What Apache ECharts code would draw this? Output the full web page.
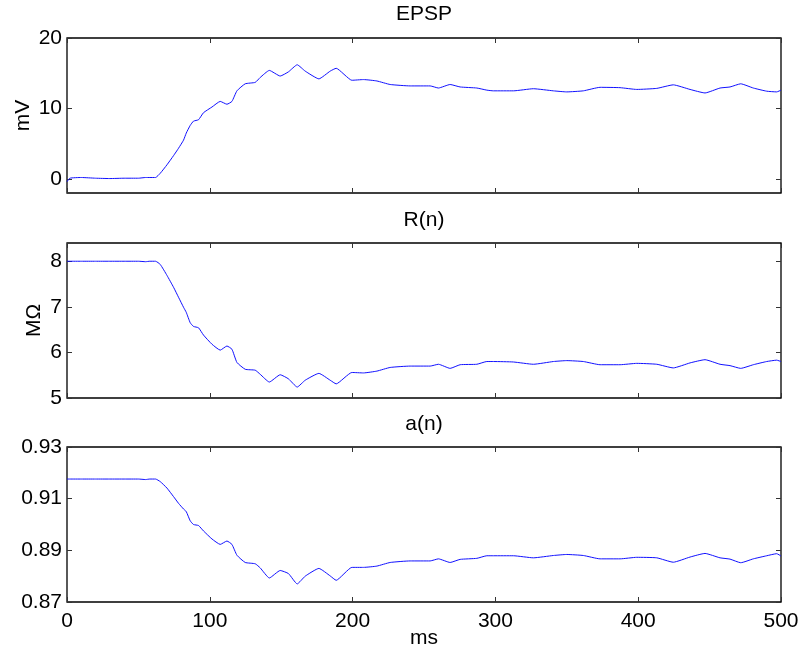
<!DOCTYPE html>
<html>
<head>
<meta charset="utf-8">
<script src="https://cdn.jsdelivr.net/npm/echarts@6/dist/echarts.min.js"></script>
<style>
html,body{margin:0;padding:0;background:#fff;}
#c{width:802px;height:658px;}
</style>
</head>
<body>
<div id="c"></div>
<script>
// time axis (ms)
var timeMs = [0, 2, 10, 20, 30, 40, 50, 55, 58, 62, 65.3, 70, 74.6, 78.1, 81.6, 83.5, 86.3, 88.6, 92.1, 95.6,
  101.5, 107.3, 112, 115.5, 119, 124.8, 131.8, 135.3, 141.7, 149.3, 155.1, 161.2, 166.8, 176.4, 184.3, 188.5,
  199.5, 207.6, 217, 226.3, 240.3, 254.3, 260.1, 268.3, 275.3, 287, 294, 298.6, 312.6, 326.6, 340.6, 350,
  361.6, 373.3, 387.3, 399, 413, 424.6, 436.3, 446.8, 457.3, 464.3, 471.8, 480.6, 490, 497, 500];

// EPSP (mV)
var epsp = [-0.4, 0.1, 0.2, 0.1, 0.05, 0.1, 0.1, 0.2, 0.2, 0.2, 0.8, 2.0, 3.3, 4.35, 5.5, 6.5, 7.6, 8.2, 8.4, 9.4,
  10.2, 11.0, 10.6, 11.0, 12.5, 13.5, 13.7, 14.4, 15.4, 14.6, 15.2, 16.2, 15.3, 14.2, 15.3, 15.7,
  14.0, 14.1, 13.9, 13.4, 13.2, 13.2, 12.9, 13.4, 13.05, 12.9, 12.6, 12.5, 12.5, 12.8, 12.5, 12.35,
  12.5, 13.0, 12.95, 12.7, 12.85, 13.35, 12.7, 12.2, 12.9, 13.05, 13.5, 12.9, 12.45, 12.35, 12.6];

// R(n) (MOhm)
var resist = [8.0, 8.0, 8.0, 8.0, 8.0, 8.0, 8.0, 7.99, 8.0, 8.0, 7.93, 7.69, 7.43, 7.21, 6.99, 6.88, 6.65, 6.57, 6.54, 6.38,
  6.18, 6.05, 6.14, 6.07, 5.78, 5.63, 5.61, 5.52, 5.35, 5.51, 5.42, 5.24, 5.39, 5.54, 5.39, 5.31,
  5.56, 5.55, 5.59, 5.67, 5.70, 5.70, 5.74, 5.65, 5.73, 5.74, 5.80, 5.80, 5.79, 5.74, 5.80, 5.82,
  5.80, 5.73, 5.73, 5.76, 5.74, 5.66, 5.77, 5.84, 5.74, 5.71, 5.65, 5.73, 5.80, 5.83, 5.80];

// a(n)
var aCoef = [0.9176, 0.9176, 0.9176, 0.9176, 0.9176, 0.9176, 0.9176, 0.9174, 0.9176, 0.9176, 0.9166, 0.9141, 0.9108, 0.9082, 0.9060, 0.9050, 0.9014, 0.9000, 0.8996, 0.8975,
  0.8944, 0.8923, 0.8936, 0.8923, 0.8881, 0.8853, 0.8848, 0.8832, 0.8793, 0.8822, 0.8810, 0.8770, 0.8800, 0.8830, 0.8801, 0.8784,
  0.8834, 0.8834, 0.8839, 0.8853, 0.8859, 0.8859, 0.8867, 0.8853, 0.8865, 0.8869, 0.8879, 0.8879, 0.8879, 0.8871, 0.8880, 0.8884,
  0.8880, 0.8867, 0.8867, 0.8873, 0.8871, 0.8854, 0.8874, 0.8888, 0.8871, 0.8866, 0.8852, 0.8867, 0.8879, 0.8887, 0.8878];

var xTicks = [0, 100, 200, 300, 400, 500];
var yTicks1 = [0, 10, 20];
var yTicks2 = [5, 6, 7, 8];
var yTicks3 = [0.87, 0.89, 0.91, 0.93];
var titles = ['EPSP', 'R(n)', 'a(n)'];
var yNames = ['mV', 'M\u03A9', ''];

var FONT = '"Liberation Sans", Arial, Helvetica, sans-serif';
var FS = 21;
var chart = echarts.init(document.getElementById('c'), null, {renderer: 'canvas'});

var grids = [
  {left: 67, right: 21, top: 38, height: 155},
  {left: 67, right: 21, top: 243, height: 155},
  {left: 67, right: 21, top: 447, height: 155}
];
grids.forEach(function (g) { g.show = true; g.borderColor = '#000'; g.borderWidth = 1.3; g.backgroundColor = '#fff'; });

var yRanges = [[-2, 20], [5, 8.4], [0.87, 0.93]];
var yTickSets = [yTicks1, yTicks2, yTicks3];
var nameGaps = [33, 22, 0];

var xAxes = [], yAxes = [], series = [];
function tick(vals) {
  var t = {show: true, inside: true, length: 5, lineStyle: {color: '#333', width: 1}};
  if (vals) t.customValues = vals;
  return t;
}
for (var i = 0; i < 3; i++) {
  xAxes.push({
    type: 'value', gridIndex: i, min: 0, max: 500, interval: 100, position: 'bottom',
    name: i === 2 ? 'ms' : '', nameLocation: 'middle', nameGap: 26, nameMoveOverlap: false,
    nameTextStyle: {fontFamily: FONT, fontSize: FS, color: '#000'},
    axisLine: {show: false, onZero: false},
    axisTick: tick(xTicks),
    splitLine: {show: false},
    axisLabel: {show: i === 2, fontFamily: FONT, fontSize: FS, color: '#000', margin: 9, customValues: xTicks}
  });
  xAxes.push({
    type: 'value', gridIndex: i, min: 0, max: 500, interval: 100, position: 'top',
    axisLine: {show: false, onZero: false}, axisTick: tick(xTicks), splitLine: {show: false}, axisLabel: {show: false}
  });
  var ts = yTickSets[i];
  yAxes.push({
    type: 'value', gridIndex: i, min: yRanges[i][0], max: yRanges[i][1], position: 'left',
    name: yNames[i], nameLocation: 'middle', nameGap: nameGaps[i], nameRotate: 90, nameMoveOverlap: false,
    nameTextStyle: {fontFamily: FONT, fontSize: FS, color: '#000'},
    axisLine: {show: false, onZero: false},
    axisTick: tick(ts),
    splitLine: {show: false},
    axisLabel: {show: true, fontFamily: FONT, fontSize: FS, color: '#000', margin: 5, customValues: ts,
      formatter: (function (k) { return function (v) { return k === 2 ? v.toFixed(2) : String(v); }; })(i)}
  });
  yAxes.push({
    type: 'value', gridIndex: i, min: yRanges[i][0], max: yRanges[i][1], position: 'right',
    axisLine: {show: false, onZero: false},
    axisTick: tick(ts),
    splitLine: {show: false}, axisLabel: {show: false, customValues: ts}
  });
}

var dataSets = [epsp, resist, aCoef];
for (var s = 0; s < 3; s++) {
  var arr = dataSets[s];
  series.push({
    type: 'line', xAxisIndex: s * 2, yAxisIndex: s * 2,
    data: timeMs.map(function (t, j) { return [t, arr[j]]; }),
    showSymbol: false, symbol: 'none', smooth: 0.15,
    lineStyle: {color: '#1010ff', width: 1}, silent: true
  });
}

var titleY = [14, 220, 424];
var graphics = titles.map(function (t, k) {
  return {type: 'text', x: 424, y: titleY[k],
    style: {text: t, fontFamily: FONT, fontSize: FS, fill: '#000', align: 'center', verticalAlign: 'middle'}};
});

chart.setOption({
  animation: false,
  backgroundColor: '#fff',
  grid: grids,
  xAxis: xAxes,
  yAxis: yAxes,
  series: series,
  graphic: graphics
});
</script>
</body>
</html>
